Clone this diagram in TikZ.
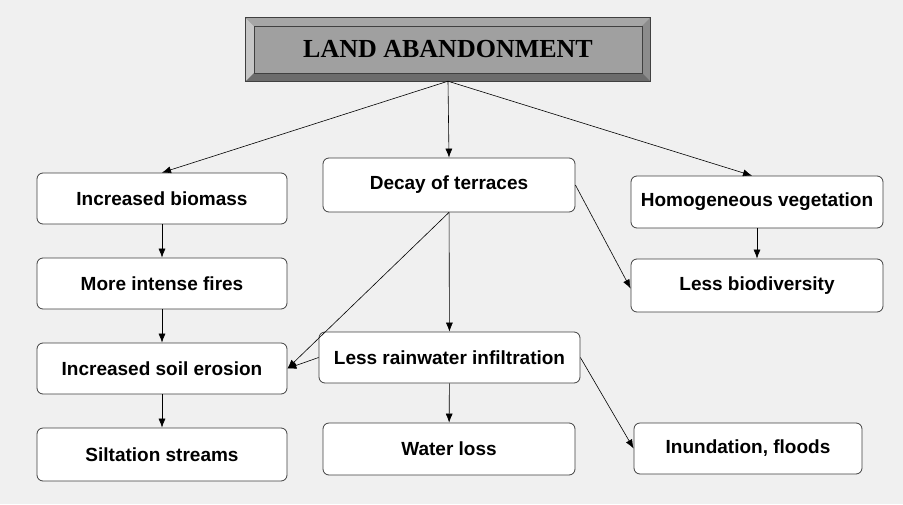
\documentclass[tikz,border=0pt]{standalone}
\usepackage{fontspec}
\setmainfont{Liberation Sans}
\newfontfamily\titlefont{Liberation Serif}
\usetikzlibrary{arrows.meta}
\definecolor{bggray}{HTML}{F0F0F0}
\definecolor{facegray}{HTML}{A0A0A0}
\definecolor{linegray}{HTML}{404040}

\begin{document}
\begin{tikzpicture}[
            x=1pt, y=-1pt,
            every node/.style={font=\fontsize{19}{21}\selectfont\bfseries},
            box/.style={draw=linegray, line width=0.8pt, fill=white, rounded corners=6pt,
                minimum height=51pt, inner sep=0pt},
            link/.style={draw=black, line width=0.6pt, -{Latex[length=9pt,width=7pt]}},
            ]
            \fill[bggray] (0,0) rectangle (903,504);
            % title with bevel
            \node[draw=linegray, fill=facegray, minimum width=404pt, minimum height=63pt,
                font=\titlefont\fontsize{26}{28}\selectfont\bfseries] (title) at (448,49.5) {LAND ABANDONMENT};
            \fill[gray!45] (title.north west) -- ++(8,8) -- ([shift={(8,-8)}]title.south west) -- (title.south west) -- cycle;
            \fill[gray!70] (title.north west) -- ++(8,8) -- ([shift={(-8,8)}]title.north east) -- (title.north east) -- cycle;
            \fill[gray!110!black] (title.north east) -- ++(-8,8) -- ([shift={(-8,-8)}]title.south east) -- (title.south east) -- cycle;
            \fill[gray!85!black] (title.south west) -- ++(8,-8) -- ([shift={(-8,-8)}]title.south east) -- (title.south east) -- cycle;
            \draw[linegray, line width=0.6pt] ([shift={(8,8)}]title.north west) rectangle ([shift={(-8,-8)}]title.south east);
            \draw[linegray, line width=0.8pt] (title.north west) rectangle (title.south east);

            \node[box, minimum width=250pt] (biomass) at (162,198.5) {Increased biomass};
            \node[box, minimum width=250pt] (fires) at (162,283.5) {More intense fires};
            \node[box, minimum width=250pt] (erosion) at (162,368.5) {Increased soil erosion};
            \node[box, minimum width=250pt, minimum height=53pt] (siltation) at (162,454.5) {Siltation streams};
            \node[box, minimum width=252pt, minimum height=54pt] (decay) at (449,185) {Decay of terraces};
            \node[box, minimum width=261pt] (rainwater) at (449.5,357.5) {Less rainwater infiltration};
            \node[box, minimum width=252pt, minimum height=52pt] (waterloss) at (449,449) {Water loss};
            \node[box, minimum width=228pt] (inundation) at (748,448.5) {Inundation, floods};
            \node[box, minimum width=252pt, minimum height=52pt] (homog) at (757,202) {Homogeneous vegetation};
            \node[box, minimum width=252pt, minimum height=53pt] (biodiv) at (757,285.5) {Less biodiversity};

            \draw[link] (title.south) -- (biomass.north);
            \draw[link] (title.south) -- (decay.north);
            \draw[link] (title.south) -- ([xshift=-5pt]homog.north);
            \draw[link] (biomass) -- (fires);
            \draw[link] (fires) -- (erosion);
            \draw[link] (erosion) -- (siltation);
            \draw[link] (decay) -- (rainwater);
            \draw[link] (decay.south) -- (erosion.east);
            \draw[link] (rainwater.west) -- (erosion.east);
            \draw[link] (decay.east) -- ([yshift=-3pt]biodiv.west);
            \draw[link] (homog) -- (biodiv);
            \draw[link] (rainwater) -- (waterloss);
            \draw[link] (rainwater.east) -- (inundation.west);
        \end{tikzpicture}
\end{document}
